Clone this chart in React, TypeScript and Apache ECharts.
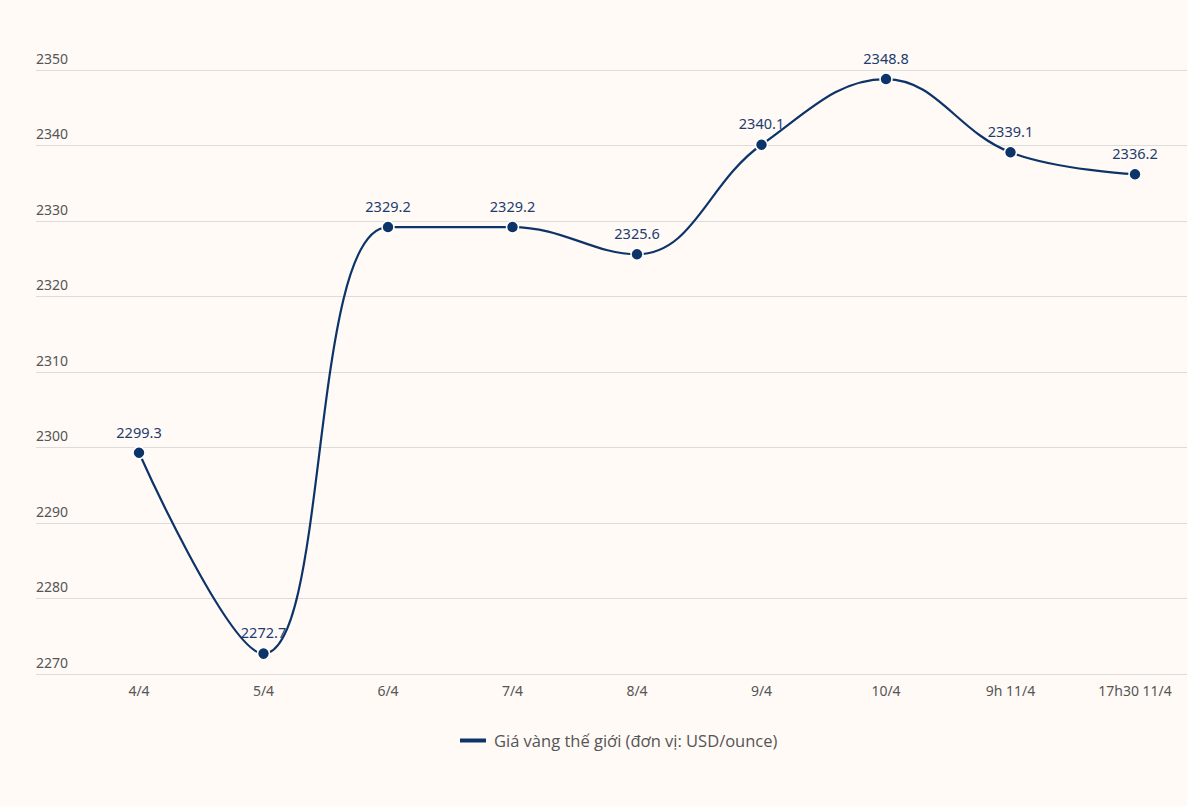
import React, { useEffect, useRef } from "react";
import * as echarts from "echarts";

const categories = ["4/4", "5/4", "6/4", "7/4", "8/4", "9/4", "10/4", "9h 11/4", "17h30 11/4"];
const prices = [2299.3, 2272.7, 2329.2, 2329.2, 2325.6, 2340.1, 2348.8, 2339.1, 2336.2];
const seriesName = "Giá vàng thế giới (đơn vị: USD/ounce)";
const yMin = 2270;
const yMax = 2350;
const yStep = 10;

export default function App() {
  const ref = useRef<HTMLDivElement>(null);
  useEffect(() => {
    document.body.style.margin = "0";
    document.body.style.background = "#fffaf6";
    const chart = echarts.init(ref.current!, null, { renderer: "svg" });
    const navy = "#0c3468";
    chart.setOption({
      animation: false,
      backgroundColor: "#fffaf6",
      grid: [
        { left: 36, right: 0, top: 70, height: 604 },
        { left: 139, right: 52, top: 70, height: 604 },
      ],
      xAxis: [
        { type: "category", gridIndex: 0, data: categories, show: false },
        {
          type: "category",
          gridIndex: 1,
          data: categories,
          boundaryGap: false,
          axisLine: { show: false },
          axisTick: { show: false },
          axisLabel: { color: "#555", fontSize: 14, fontFamily: "Noto Sans", margin: 9 },
        },
      ],
      yAxis: [
        {
          type: "value",
          gridIndex: 0,
          min: yMin,
          max: yMax,
          interval: yStep,
          axisLine: { show: false },
          axisTick: { show: false },
          axisLabel: {
            inside: true,
            margin: 0,
            verticalAlign: "bottom",
            padding: [0, 0, 5, 0],
            color: "#555",
            fontSize: 14,
            fontFamily: "Noto Sans",
            formatter: (v: number) => String(v),
          },
          splitLine: { lineStyle: { color: "#dcdcdc", width: 1 } },
        },
        { type: "value", gridIndex: 1, min: yMin, max: yMax, interval: yStep, show: false },
      ],
      legend: {
        left: 455,
        top: 727,
        icon: "rect",
        itemWidth: 26,
        itemHeight: 4,
        itemGap: 10,
        itemStyle: { color: navy, borderWidth: 0 },
        lineStyle: { width: 4, color: navy },
        textStyle: { color: "#555", fontSize: 16.5, fontFamily: "Open Sans", padding: [0, 0, 0, 3] },
        data: [seriesName],
      },
      series: [
        {
          name: seriesName,
          type: "line",
          xAxisIndex: 1,
          yAxisIndex: 1,
          data: prices,
          smooth: 0.4,
          symbol: "circle",
          symbolSize: 12,
          lineStyle: { color: navy, width: 2.2 },
          itemStyle: { color: navy, borderColor: "#ffffff", borderWidth: 1.5 },
          label: {
            show: true,
            position: "top",
            distance: 7,
            color: "#1c3d6e",
            fontSize: 14.5,
            fontFamily: "Noto Sans",
          },
        },
      ],
    });
    return () => chart.dispose();
  }, []);
  return <div ref={ref} style={{ width: 1187, height: 806 }} />;
}
